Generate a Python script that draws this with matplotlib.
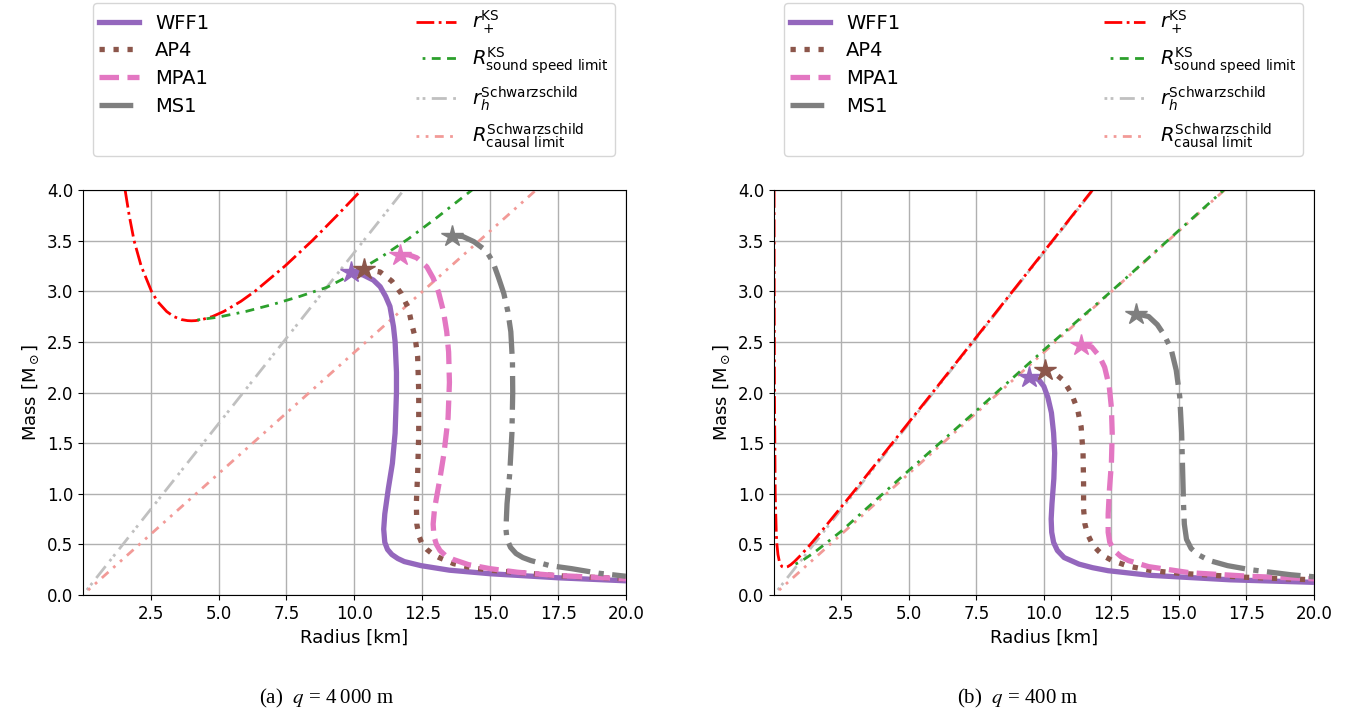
#Purpose: Mass-radius curves of four EoS with horizon / limit lines, two values of q
import matplotlib.pyplot as plt
import numpy as np

##########################################
#Data, radius in km, mass in solar masses

#Panel (a): q = 4000 m
red_a_R = [1.56, 1.71, 1.89, 2.15, 2.53, 2.75, 3.09, 3.35, 3.64, 3.86, 4.0, 4.15, 4.39, 4.77, 5.19, 5.82, 6.34, 7.45, 8.45, 9.37, 10.26]
red_a_M = [4.0, 3.75, 3.5, 3.25, 3.0, 2.9, 2.8, 2.75, 2.72, 2.71, 2.708, 2.71, 2.72, 2.75, 2.8, 2.9, 3.0, 3.25, 3.5, 3.75, 4.0]
green_a_R = [4.0, 5.0, 6.0, 7.0, 8.0, 9.0, 10.0, 11.0, 12.0, 13.0, 14.33]
green_a_M = [2.708, 2.745, 2.80, 2.87, 2.95, 3.04, 3.18, 3.34, 3.52, 3.72, 4.0]
schw_a_R = [0.15, 11.82]
schw_a_M = [0.05, 4.0]
causal_a_R = [0.2, 16.69]
causal_a_M = [0.048, 4.0]

wff1_a_R = [9.87, 10.33, 10.7, 10.95, 11.15, 11.31, 11.44, 11.5, 11.55, 11.55, 11.5, 11.4, 11.25, 11.12, 11.08, 11.12, 11.22, 11.38, 11.6, 11.84, 12.45, 13.5, 15.0, 17.5, 20.0]
wff1_a_M = [3.19, 3.16, 3.11, 3.045, 2.95, 2.85, 2.65, 2.5, 2.2, 2.0, 1.6, 1.3, 1.05, 0.8, 0.65, 0.52, 0.45, 0.40, 0.36, 0.33, 0.29, 0.245, 0.21, 0.17, 0.14]
ap4_a_R = [10.35, 10.95, 11.38, 11.72, 11.99, 12.11, 12.24, 12.33, 12.37, 12.37, 12.33, 12.28, 12.3, 12.38, 12.5, 12.67, 12.9, 13.12, 13.65, 14.3, 15.0, 17.5, 20.0]
ap4_a_M = [3.22, 3.19, 3.10, 2.98, 2.83, 2.68, 2.54, 2.35, 2.0, 1.6, 1.2, 0.9, 0.7, 0.58, 0.5, 0.45, 0.4, 0.37, 0.31, 0.27, 0.245, 0.19, 0.16]
mpa1_a_R = [11.69, 12.0, 12.3, 12.67, 12.9, 13.1, 13.28, 13.4, 13.47, 13.5, 13.45, 13.3, 13.15, 13.05, 12.95, 12.9, 12.93, 13.02, 13.15, 13.35, 13.65, 14.2, 15.0, 16.0, 17.3, 20.0]
mpa1_a_M = [3.36, 3.36, 3.33, 3.24, 3.13, 2.99, 2.8, 2.6, 2.4, 2.1, 1.75, 1.4, 1.15, 1.0, 0.85, 0.7, 0.58, 0.5, 0.44, 0.39, 0.35, 0.3, 0.26, 0.225, 0.195, 0.16]
ms1_a_R = [13.6, 14.0, 14.4, 14.85, 15.1, 15.3, 15.5, 15.65, 15.76, 15.82, 15.83, 15.8, 15.72, 15.62, 15.58, 15.62, 15.75, 15.95, 16.2, 16.5, 17.2, 18.0, 19.0, 20.0]
ms1_a_M = [3.55, 3.54, 3.49, 3.4, 3.29, 3.14, 2.98, 2.8, 2.6, 2.3, 2.0, 1.6, 1.2, 0.9, 0.65, 0.55, 0.47, 0.41, 0.37, 0.34, 0.29, 0.26, 0.215, 0.185]

#Panel (b): q = 400 m
red_b_R = [0.0136, 0.0181, 0.0272, 0.0552, 0.0954, 0.118, 0.156, 0.209, 0.253, 0.308, 0.40, 0.519, 0.634, 0.766, 1.026, 1.359, 1.677, 2.899, 5.881, 8.844, 11.80]
red_b_M = [4.0, 3.0, 2.0, 1.0, 0.6, 0.5, 0.4, 0.33, 0.3, 0.28, 0.271, 0.28, 0.3, 0.33, 0.4, 0.5, 0.6, 1.0, 2.0, 3.0, 4.0]
green_b_R = [0.6, 1.0, 1.5, 2.5, 5.0, 7.5, 10.0, 12.5, 16.66]
green_b_M = [0.28, 0.33, 0.42, 0.63, 1.23, 1.82, 2.42, 3.0, 4.0]
schw_b_R = [0.15, 11.82]
schw_b_M = [0.05, 4.0]
causal_b_R = [0.2, 16.69]
causal_b_M = [0.048, 4.0]

wff1_b_R = [9.45, 9.8, 10.0, 10.15, 10.28, 10.36, 10.4, 10.37, 10.3, 10.27, 10.29, 10.36, 10.5, 10.75, 11.3, 11.8, 12.38, 13.9, 16.9, 20.0]
wff1_b_M = [2.15, 2.13, 2.06, 1.95, 1.8, 1.6, 1.4, 1.15, 0.9, 0.75, 0.62, 0.52, 0.44, 0.37, 0.305, 0.27, 0.24, 0.195, 0.15, 0.125]
ap4_b_R = [10.05, 10.4, 10.72, 11.02, 11.25, 11.38, 11.45, 11.47, 11.47, 11.52, 11.62, 11.8, 12.0, 12.25, 12.53, 13.13, 14.0, 15.0, 17.5, 20.0]
ap4_b_M = [2.22, 2.19, 2.12, 1.99, 1.83, 1.66, 1.4, 1.1, 0.85, 0.7, 0.6, 0.5, 0.44, 0.38, 0.34, 0.285, 0.24, 0.215, 0.175, 0.15]
mpa1_b_R = [11.37, 11.77, 12.05, 12.25, 12.42, 12.5, 12.53, 12.5, 12.43, 12.38, 12.38, 12.44, 12.6, 12.85, 13.13, 13.88, 15.4, 17.6, 20.0]
mpa1_b_M = [2.47, 2.45, 2.36, 2.25, 2.06, 1.85, 1.6, 1.3, 1.05, 0.8, 0.62, 0.52, 0.44, 0.38, 0.34, 0.28, 0.22, 0.185, 0.16]
ms1_b_R = [13.4, 13.88, 14.2, 14.45, 14.71, 14.9, 15.03, 15.1, 15.14, 15.17, 15.2, 15.28, 15.45, 15.7, 16.13, 16.8, 17.64, 19.14, 20.0]
ms1_b_M = [2.78, 2.75, 2.67, 2.57, 2.43, 2.22, 1.96, 1.6, 1.2, 0.9, 0.7, 0.55, 0.46, 0.4, 0.34, 0.29, 0.25, 0.2, 0.18]

captions = [r'(a)  $q$ = 4' + '\u2009' + '000 m', r'(b)  $q$ = 400 m']

##########################################
#Styles
eos_names = ['WFF1', 'AP4', 'MPA1', 'MS1']
eos_colors = ['tab:purple', 'tab:brown', 'tab:pink', 'tab:gray']
eos_styles = ['-', ':', '--', '-.']
eos_lw = 3.8

ref_labels = [r'$r_+^{\mathrm{KS}}$', r'$R^{\mathrm{KS}}_{\mathrm{sound\ speed\ limit}}$',
              r'$r_h^{\mathrm{Schwarzschild}}$', r'$R^{\mathrm{Schwarzschild}}_{\mathrm{causal\ limit}}$']
ref_colors = ['red', 'tab:green', 'silver', '#f29a97']
ref_styles = ['-.', (3.3, (3.2, 2.3, 1, 2.3, 3.2, 2.3)),
              (0, (1, 1.2, 1, 2.3, 5.4, 2.3)), (0, (1, 2.3, 1, 2.3, 3.2, 2.3))]
ref_lw = 2

panels = [
	dict(eos=[(wff1_a_R, wff1_a_M), (ap4_a_R, ap4_a_M), (mpa1_a_R, mpa1_a_M), (ms1_a_R, ms1_a_M)],
	     ref=[(red_a_R, red_a_M), (green_a_R, green_a_M), (schw_a_R, schw_a_M), (causal_a_R, causal_a_M)]),
	dict(eos=[(wff1_b_R, wff1_b_M), (ap4_b_R, ap4_b_M), (mpa1_b_R, mpa1_b_M), (ms1_b_R, ms1_b_M)],
	     ref=[(red_b_R, red_b_M), (green_b_R, green_b_M), (schw_b_R, schw_b_M), (causal_b_R, causal_b_M)]),
]

##########################################
#Figure
fig = plt.figure(figsize=(13.65, 7.14), dpi=100)
W, H = 1365., 714.
ax_boxes = [(83, 626), (774, 1314)]
cap_x = [327, 1018]

for pi, panel in enumerate(panels):
	x0, x1 = ax_boxes[pi]
	ax = fig.add_axes([x0 / W, 1 - 595 / H, (x1 - x0) / W, (595 - 190) / H])

	#Reference lines (Schwarzschild first, KS drawn on top)
	ref_handles = [None] * 4
	for ri in [2, 3, 0, 1]:
		r, m = panel['ref'][ri]
		ref_handles[ri], = ax.plot(r, m, color=ref_colors[ri], linestyle=ref_styles[ri], lw=ref_lw,
		                           label=ref_labels[ri], zorder=2)

	#EoS curves with a star at the maximum mass
	eos_handles = []
	for ei, (r, m) in enumerate(panel['eos']):
		h, = ax.plot(r, m, color=eos_colors[ei], linestyle=eos_styles[ei], lw=eos_lw,
		             label=eos_names[ei], zorder=3)
		eos_handles.append(h)
		ax.plot(r[0], m[0], marker='*', color=eos_colors[ei], markersize=16, zorder=4)

	ax.set_xlim(0.01, 20)
	ax.set_ylim(0, 4)
	ax.set_xticks(np.arange(2.5, 20.1, 2.5))
	ax.set_yticks(np.arange(0, 4.01, 0.5))
	ax.tick_params(labelsize=12)
	ax.grid(True, color='#b0b0b0', lw=1)
	ax.set_axisbelow(True)
	ax.set_xlabel('Radius [km]', fontsize=13)
	ax.set_ylabel(r'Mass [M$_\odot$]', fontsize=13)

	#Legend above the axes, top edge 3 px below the figure top
	ax.legend(handles=eos_handles + ref_handles, ncol=2, loc='upper left', mode='expand',
	          bbox_to_anchor=(0.018, 1 + 187 / 405, 0.961, 0.), fontsize=14, handlelength=2.1,
	          labelspacing=0.45, borderpad=0.3, borderaxespad=0.)

	fig.text(cap_x[pi] / W, 1 - 698 / H, captions[pi], ha='center', va='center',
	         family='Liberation Serif', math_fontfamily='stix', fontsize=15)

plt.savefig('out.png', dpi=100)
